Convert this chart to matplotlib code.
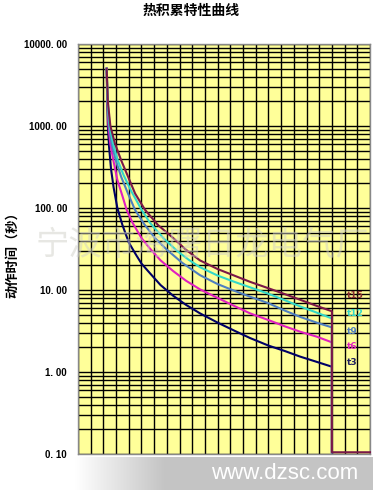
import numpy as np
import matplotlib
matplotlib.use("Agg")
import matplotlib.pyplot as plt
from matplotlib.ticker import LogLocator, FixedLocator, NullFormatter

plt.rcParams['font.family'] = ['Noto Sans CJK SC', 'DejaVu Sans']

title = "热积累特性曲线"
ylabel = "动作时间（秒）"
yticks = [0.1, 1, 10, 100, 1000, 10000]
ytick_labels = ["0. 10", "1. 00", "10. 00", "100. 00", "1000. 00", "10000. 00"]

series_names = ["t3", "t6", "t9", "t12", "t15"]
series_colors = ["#000066", "#E020C0", "#4F7FC0", "#33D8C8", "#7A1848"]
label_colors = ["#202060", "#E020C0", "#4F7FC0", "#33D8C8", "#8B3030"]

x_t3 = [2.26, 2.30, 2.35, 2.45, 2.6, 2.8, 3.1, 3.5, 4.0, 4.5, 5.0, 5.67, 6.5,
        7.5, 8.5, 9.6, 11.0, 12.3, 13.54, 15.0, 16.3, 17.5, 18.8, 20.0, 20.0]
y_t3 = [5000, 2000, 1000, 550, 300, 180, 100, 62, 38, 28, 21, 16, 11.5,
        8.5, 6.6, 5.2, 4.0, 3.2, 2.6, 2.1, 1.8, 1.54, 1.33, 1.16, 0.105]

x_t6 = [2.26, 2.32, 2.40, 2.55, 2.78, 3.1, 3.5, 3.83, 4.3, 5.0, 5.67, 6.5,
        7.5, 8.5, 9.6, 11.0, 12.3, 13.54, 15.0, 16.3, 17.5, 18.8, 20.0, 20.0]
y_t6 = [5000, 2000, 1000, 600, 385, 220, 140, 95, 66, 43, 32, 23,
        17, 13, 10.2, 8.0, 6.4, 5.2, 4.3, 3.6, 3.1, 2.7, 2.3, 0.105]

x_t9 = [2.26, 2.33, 2.45, 2.65, 2.97, 3.4, 3.9, 4.49, 5.2, 6.06, 7.0, 8.2,
        9.6, 11.0, 12.3, 13.54, 15.0, 16.3, 17.5, 18.8, 20.0, 20.0]
y_t9 = [5000, 2000, 1000, 600, 385, 240, 155, 95, 64, 43, 31, 21.5,
        15.2, 11.8, 9.8, 8.3, 6.9, 5.6, 4.7, 4.0, 3.5, 0.105]

x_t12 = [2.26, 2.34, 2.50, 2.75, 3.12, 3.6, 4.2, 5.01, 5.67, 6.72, 7.8, 8.7,
         9.6, 11.0, 12.3, 13.54, 15.0, 16.3, 17.5, 18.8, 20.0, 20.0]
y_t12 = [5000, 2000, 1000, 620, 385, 250, 160, 95, 66, 43, 30, 23.5,
         19, 15, 12.6, 10.8, 9.0, 7.5, 6.3, 5.3, 4.5, 0.105]

x_t15 = [2.26, 2.35, 2.55, 2.9, 3.39, 3.9, 4.5, 5.28, 6.3, 7.5, 8.5, 9.6,
         11.0, 12.3, 13.54, 15.0, 16.3, 17.5, 18.8, 20.0, 20.0, 23.0]
y_t15 = [5000, 2000, 1000, 620, 385, 250, 150, 95, 62, 43, 31, 23,
         18, 15, 12.6, 10.5, 8.9, 7.6, 6.4, 5.5, 0.105, 0.105]

label_x = [21.2, 21.2, 21.2, 21.2, 21.2]
label_y = [1.32, 2.04, 3.16, 5.1, 8.45]

xs = [x_t3, x_t6, x_t9, x_t12, x_t15]
ys = [y_t3, y_t6, y_t9, y_t12, y_t15]

fig = plt.figure(figsize=(3.78, 4.93), dpi=100)
fig.patch.set_facecolor("white")

# bottom gradient band with site url
band = fig.add_axes([75/378, 1-490/493, 298/378, 33/493])
grad = np.linspace(0, 1, 300)
grad = np.clip(grad / 0.3, 0, 1)
img = np.ones((2, 300, 3))
for c in range(3):
    img[:, :, c] = 1.0 - grad * (1.0 - 0.77)
band.imshow(img, aspect='auto', extent=[0, 1, 0, 1])
band.set_axis_off()
band.text(0.705, 0.5, "www.dzsc.com", color="white", fontsize=16,
          family=["Liberation Sans", "DejaVu Sans"], ha="center", va="center")

ax = fig.add_axes([78/378, 1-454/493, 292/378, 410/493])
ax.set_facecolor("#FFFF99")
ax.set_yscale("log")
ax.set_ylim(0.1, 10000)
ax.set_xlim(0, 23)

ax.xaxis.set_major_locator(FixedLocator(np.arange(0, 24, 1)))
ax.yaxis.set_major_locator(FixedLocator(yticks))
ax.yaxis.set_minor_locator(LogLocator(base=10, subs=np.arange(2, 10)))
ax.yaxis.set_minor_formatter(NullFormatter())
ax.grid(True, which="major", axis="both", color="black", lw=1.0)
ax.grid(True, which="minor", axis="y", color="black", lw=1.0)
ax.set_axisbelow(True)
ax.set_xticklabels([])
ax.set_yticklabels(ytick_labels, fontweight="bold", fontsize=7,
                   family=["Liberation Sans", "DejaVu Sans"])
ax.tick_params(axis="both", which="both", length=0, pad=8)
for s in ax.spines.values():
    s.set_color("#888888")
    s.set_linewidth(1.0)

for x, y, c in zip(xs, ys, series_colors):
    ax.plot(x, y, color=c, lw=1.5, clip_on=False, zorder=3,
            solid_joinstyle="round")

for name, lx, ly, c in zip(series_names, label_x, label_y, label_colors):
    ax.text(lx, ly, name, color=c, fontsize=6.5, fontweight="bold",
            family=["DejaVu Sans"], va="center", ha="left", zorder=4)

fig.text(12/378, 1-252/493, ylabel, rotation=90, fontsize=9.5, fontweight="bold",
         ha="center", va="center")
fig.text(191/378, 1-11/493, title, fontsize=10, fontweight="bold",
         ha="center", va="center")

# faint watermark
fig.text(202/378, 1-245/493, "宁波市海曙日龙电气厂", fontsize=24, color="#D0D0C8",
         alpha=0.5, ha="center", va="center", zorder=10)

fig.savefig("out.png", dpi=100)
